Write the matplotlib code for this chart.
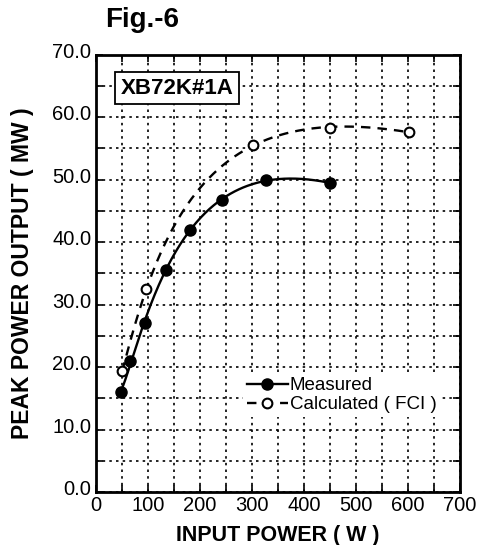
import numpy as np
import matplotlib
matplotlib.use("Agg")
import matplotlib.pyplot as plt
from matplotlib.transforms import ScaledTranslation

# data
meas_w = [48, 66, 94, 134, 180, 243, 327, 451]
meas_mw = [16.0, 21.0, 27.0, 35.5, 42.0, 46.8, 49.9, 49.4]
calc_w = [50, 97, 302, 450, 603]
calc_mw = [19.3, 32.5, 55.5, 58.3, 57.6]

xticks = [0, 100, 200, 300, 400, 500, 600, 700]
yticks = [0, 10, 20, 30, 40, 50, 60, 70]

plt.rcParams['font.family'] = ['Liberation Sans', 'DejaVu Sans']

fig = plt.figure(figsize=(4.78, 5.45), dpi=100)
ax = fig.add_axes([0.201, 0.097, 0.761, 0.803])

# smooth curves fitted through the points
p_meas = np.polyfit(np.log(meas_w), meas_mw, 3)
xm = np.linspace(min(meas_w), max(meas_w), 200)
ax.plot(xm, np.polyval(p_meas, np.log(xm)), color='black', lw=1.7)
p_calc = np.polyfit(np.log(calc_w), calc_mw, 3)
xc = np.linspace(min(calc_w), max(calc_w), 200)
ax.plot(xc, np.polyval(p_calc, np.log(xc)), color='black', lw=1.7, ls=(0, (4, 3)))

ax.plot(meas_w, meas_mw, 'o', color='black', ms=8)
ax.plot(calc_w, calc_mw, 'o', mfc='white', mec='black', mew=1.5, ms=7)

# legend proxies
ax.plot([], [], '-o', color='black', ms=8, lw=1.7, label='Measured')
ax.plot([], [], 'o', ls=(0, (4, 3)), color='black', mfc='white', mew=1.5,
        ms=7, lw=1.7, label='Calculated ( FCI )')
ax.legend(handles=ax.get_lines()[-2:], loc='lower left',
          bbox_to_anchor=(0.378, 0.15), frameon=True, edgecolor='none',
          facecolor='white', framealpha=1, fontsize=13.5, handlelength=2.2,
          handletextpad=0.1, borderpad=0.2, labelspacing=0.1)

ax.set_xlim(0, 700)
ax.set_ylim(0, 70)
ax.set_xticks(xticks)
ax.set_yticks(yticks)
ax.set_yticklabels([f"{v:.1f}" for v in yticks])
ax.set_xticks(np.arange(0, 701, 50), minor=True)
ax.set_yticks(np.arange(0, 71, 5), minor=True)
ax.grid(which='both', color='black', ls=(0, (1.5, 2.5)), lw=1.2)
ax.tick_params(which='both', direction='in', top=True, right=True,
               labelsize=14.5, length=5, width=1.2)
ax.tick_params(axis='x', pad=3)
for s in ax.spines.values():
    s.set_linewidth(2)

# y tick labels sit a little above their lines in the original
up = ScaledTranslation(0, 3 / 72, fig.dpi_scale_trans)
for lab in ax.get_yticklabels():
    lab.set_transform(lab.get_transform() + up)

ax.set_xlabel('INPUT POWER ( W )', fontsize=15.5, fontweight='bold', labelpad=7)
ax.set_ylabel('PEAK POWER OUTPUT ( MW )', fontsize=16.5, fontweight='bold', labelpad=13)

ax.text(0.068, 0.923, 'XB72K#1A', transform=ax.transAxes, fontsize=16,
        fontweight='bold', va='center', ha='left',
        bbox=dict(boxstyle='square,pad=0.25', fc='white', ec='black', lw=1.3))

fig.text(0.22, 0.963, 'Fig.-6', fontsize=20, fontweight='bold', va='center')

fig.savefig('out.png', dpi=100)
